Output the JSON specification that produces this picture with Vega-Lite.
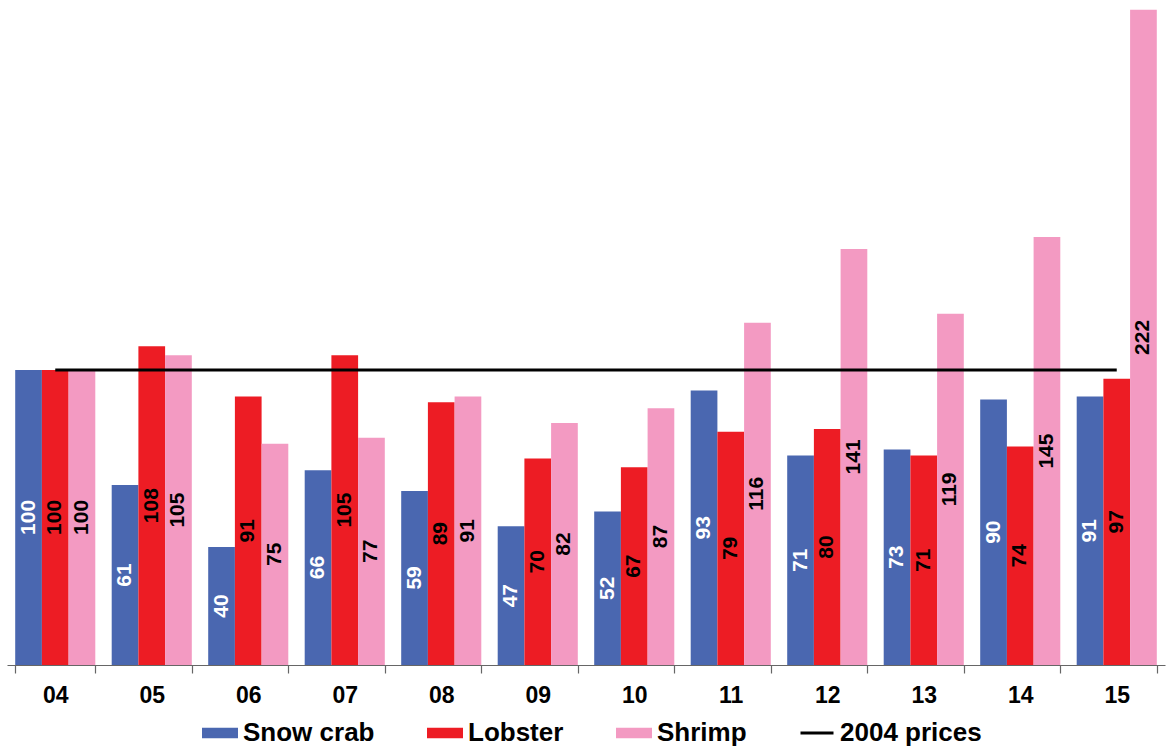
{
  "$schema": "https://vega.github.io/schema/vega-lite/v6.json",
  "width": 1158,
  "height": 664,
  "autosize": {"type": "none"},
  "padding": {"left": 7, "top": 1, "right": 6, "bottom": 81},
  "background": "white",
  "config": {
    "view": {"stroke": null},
    "font": "Liberation Sans"
  },
  "datasets": {
    "prices": [
      {"year": "04", "series": "Snow crab", "value": 100},
      {"year": "04", "series": "Lobster", "value": 100},
      {"year": "04", "series": "Shrimp", "value": 100},
      {"year": "05", "series": "Snow crab", "value": 61},
      {"year": "05", "series": "Lobster", "value": 108},
      {"year": "05", "series": "Shrimp", "value": 105},
      {"year": "06", "series": "Snow crab", "value": 40},
      {"year": "06", "series": "Lobster", "value": 91},
      {"year": "06", "series": "Shrimp", "value": 75},
      {"year": "07", "series": "Snow crab", "value": 66},
      {"year": "07", "series": "Lobster", "value": 105},
      {"year": "07", "series": "Shrimp", "value": 77},
      {"year": "08", "series": "Snow crab", "value": 59},
      {"year": "08", "series": "Lobster", "value": 89},
      {"year": "08", "series": "Shrimp", "value": 91},
      {"year": "09", "series": "Snow crab", "value": 47},
      {"year": "09", "series": "Lobster", "value": 70},
      {"year": "09", "series": "Shrimp", "value": 82},
      {"year": "10", "series": "Snow crab", "value": 52},
      {"year": "10", "series": "Lobster", "value": 67},
      {"year": "10", "series": "Shrimp", "value": 87},
      {"year": "11", "series": "Snow crab", "value": 93},
      {"year": "11", "series": "Lobster", "value": 79},
      {"year": "11", "series": "Shrimp", "value": 116},
      {"year": "12", "series": "Snow crab", "value": 71},
      {"year": "12", "series": "Lobster", "value": 80},
      {"year": "12", "series": "Shrimp", "value": 141},
      {"year": "13", "series": "Snow crab", "value": 73},
      {"year": "13", "series": "Lobster", "value": 71},
      {"year": "13", "series": "Shrimp", "value": 119},
      {"year": "14", "series": "Snow crab", "value": 90},
      {"year": "14", "series": "Lobster", "value": 74},
      {"year": "14", "series": "Shrimp", "value": 145},
      {"year": "15", "series": "Snow crab", "value": 91},
      {"year": "15", "series": "Lobster", "value": 97},
      {"year": "15", "series": "Shrimp", "value": 222}
    ],
    "reference": [
      {"start": "04", "end": "15", "series": "2004 prices", "value": 100}
    ]
  },
  "layer": [
    {
      "data": {"name": "prices"},
      "mark": {"type": "bar"},
      "encoding": {
        "x": {
          "field": "year",
          "type": "ordinal",
          "scale": {"paddingInner": 0.17, "paddingOuter": 0.085},
          "axis": {
            "title": null,
            "labelAngle": 0,
            "labelFont": "Liberation Sans",
            "labelFontWeight": "bold",
            "labelFontSize": 23,
            "labelColor": "black",
            "labelPadding": 11,
            "tickBand": "extent",
            "tickSize": 8,
            "tickColor": "#666666",
            "domainColor": "#666666",
            "domainWidth": 1.2,
            "tickWidth": 1.2
          }
        },
        "xOffset": {
          "field": "series",
          "type": "nominal",
          "sort": ["Snow crab", "Lobster", "Shrimp"],
          "scale": {"paddingInner": 0, "paddingOuter": 0}
        },
        "y": {
          "field": "value",
          "type": "quantitative",
          "scale": {"domain": [0, 225], "nice": false},
          "axis": null
        },
        "color": {
          "field": "series",
          "type": "nominal",
          "scale": {
            "domain": ["Snow crab", "Lobster", "Shrimp", "2004 prices"],
            "range": ["#4A67B0", "#ED1C24", "#F39AC2", "#000000"]
          },
          "legend": {
            "title": null,
            "orient": "none",
            "direction": "horizontal",
            "columns": 4,
            "legendX": 195,
            "legendY": 714,
            "columnPadding": 47,
            "labelFont": "Liberation Sans",
            "labelFontWeight": "bold",
            "labelFontSize": 26,
            "labelColor": "black",
            "labelOffset": 5,
            "labelLimit": 300,
            "symbolSize": 1089,
            "symbolStrokeWidth": 3,
            "encode": {
              "symbols": {
                "update": {
                  "shape": {"signal": "datum.value === '2004 prices' ? 'M-1,0H1' : 'M-1,-0.23H1V0.23H-1Z'"},
                  "size": {"value": 1089},
                  "fill": {"signal": "datum.value === '2004 prices' ? 'transparent' : scale('color', datum.value)"},
                  "stroke": {"signal": "datum.value === '2004 prices' ? '#000000' : 'transparent'"},
                  "strokeWidth": {"value": 3},
                  "opacity": {"value": 1}
                }
              }
            }
          }
        }
      }
    },
    {
      "data": {"name": "reference"},
      "mark": {"type": "rule", "strokeWidth": 3},
      "encoding": {
        "x": {"field": "start", "type": "ordinal", "bandPosition": 0.5},
        "x2": {"field": "end", "bandPosition": 0.5},
        "y": {
          "field": "value",
          "type": "quantitative",
          "scale": {"domain": [0, 225], "nice": false},
          "axis": null
        },
        "color": {"field": "series", "type": "nominal"}
      }
    },
    {
      "data": {"name": "prices"},
      "mark": {
        "type": "text",
        "angle": 270,
        "align": "center",
        "baseline": "middle",
        "font": "Liberation Sans",
        "fontWeight": "bold",
        "fontSize": 21
      },
      "encoding": {
        "x": {"field": "year", "type": "ordinal"},
        "xOffset": {
          "field": "series",
          "type": "nominal",
          "sort": ["Snow crab", "Lobster", "Shrimp"]
        },
        "y": {
          "field": "value",
          "type": "quantitative",
          "scale": {"domain": [0, 450], "nice": false},
          "axis": null
        },
        "text": {"field": "value", "type": "quantitative"},
        "color": {
          "condition": {"test": "datum.series === 'Snow crab'", "value": "white"},
          "value": "black"
        }
      }
    }
  ],
  "resolve": {"scale": {"y": "independent"}}
}
